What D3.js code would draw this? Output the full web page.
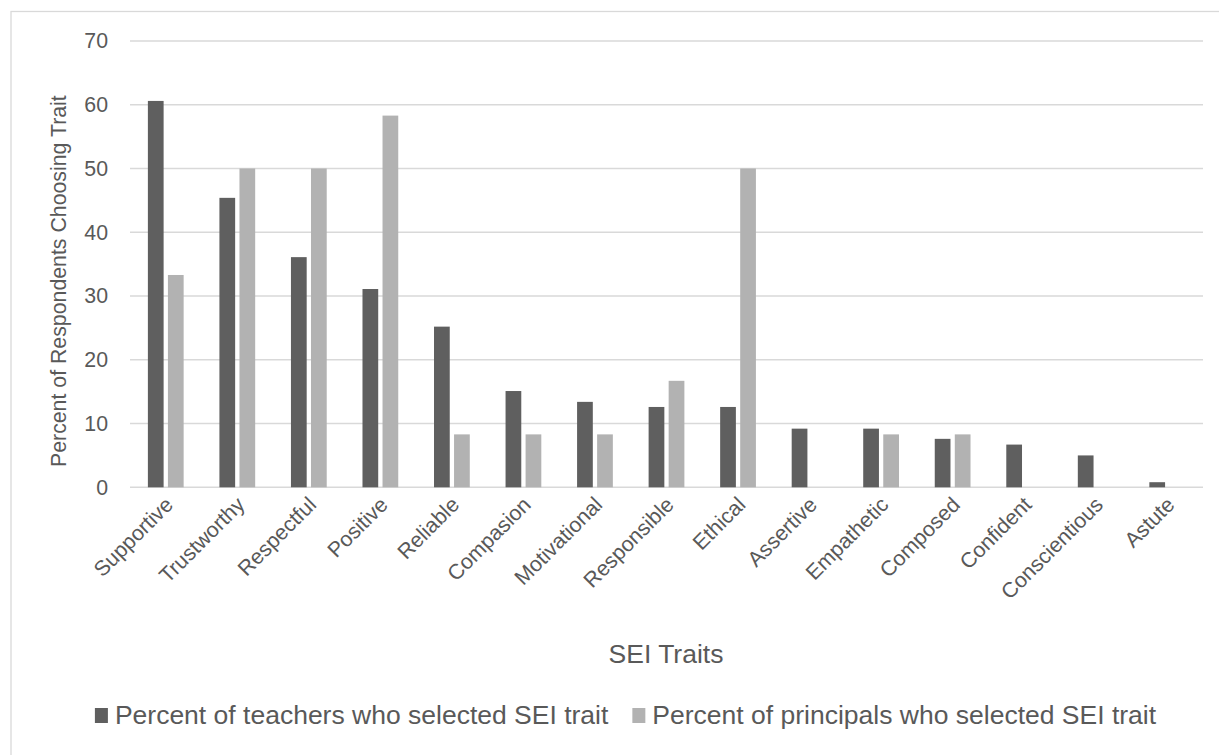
<!DOCTYPE html>
<html>
<head>
<meta charset="utf-8">
<script src="https://cdn.jsdelivr.net/npm/d3@7"></script>
<style>
  html, body { margin: 0; padding: 0; background: #fff; }
  svg { display: block; }
</style>
</head>
<body>
<div id="chart"></div>
<script>
// Data
const traits = ['Supportive', 'Trustworthy', 'Respectful', 'Positive', 'Reliable', 'Compasion',
  'Motivational', 'Responsible', 'Ethical', 'Assertive', 'Empathetic', 'Composed',
  'Confident', 'Conscientious', 'Astute'];
const teachers = [60.6, 45.4, 36.1, 31.1, 25.2, 15.1, 13.4, 12.6, 12.6, 9.2, 9.2, 7.6, 6.7, 5.0, 0.8];
const principals = [33.3, 50, 50, 58.3, 8.3, 8.3, 8.3, 16.7, 50, 0, 8.3, 8.3, 0, 0, 0];
const seriesNames = ['Percent of teachers who selected SEI trait', 'Percent of principals who selected SEI trait'];
const yTicks = [0, 10, 20, 30, 40, 50, 60, 70];

const width = 1219;
const height = 755;
const colors = ['#5f5f5f', '#b2b2b2'];
const textColor = '#595959';
const gridColor = '#d9d9d9';
const font = '"Liberation Sans", Arial, sans-serif';
const fontSize = 21.3;
const bigFontSize = 26.5; // x title and legend are set larger

// Plot area
const plot = { left: 130, right: 1203, top: 41, bottom: 487.3 };

const svg = d3.select('#chart').append('svg')
  .attr('width', width)
  .attr('height', height)
  .style('font-family', font);

// Chart border (runs off the right/bottom edges in the reference)
svg.append('rect')
  .attr('x', 11)
  .attr('y', 11.5)
  .attr('width', 1260)
  .attr('height', 800)
  .attr('fill', 'none')
  .attr('stroke', gridColor)
  .attr('stroke-width', 1.3);

const x0 = d3.scaleBand()
  .domain(traits)
  .range([plot.left, plot.right])
  .paddingInner(0.5)
  .paddingOuter(0.25);

const x1 = d3.scaleBand()
  .domain([0, 1])
  .range([0, x0.bandwidth()])
  .paddingInner(0.215);

const y = d3.scaleLinear()
  .domain([0, 70])
  .range([plot.bottom, plot.top]);

// Gridlines
svg.append('g')
  .selectAll('line')
  .data(yTicks)
  .join('line')
  .attr('x1', plot.left)
  .attr('x2', plot.right)
  .attr('y1', d => y(d))
  .attr('y2', d => y(d))
  .attr('stroke', gridColor)
  .attr('stroke-width', 1.4);

// Y tick labels
svg.append('g')
  .selectAll('text')
  .data(yTicks)
  .join('text')
  .attr('x', 108)
  .attr('y', d => y(d))
  .attr('dy', '0.35em')
  .attr('text-anchor', 'end')
  .attr('font-size', fontSize)
  .attr('fill', textColor)
  .text(d => d);

// Bars
const rows = traits.map((t, i) => ({ trait: t, values: [teachers[i], principals[i]] }));

const groups = svg.append('g')
  .selectAll('g')
  .data(rows)
  .join('g')
  .attr('transform', d => `translate(${x0(d.trait)},0)`);

groups.selectAll('rect')
  .data(d => d.values.map((v, s) => ({ s, v })).filter(d => d.v > 0))
  .join('rect')
  .attr('x', d => x1(d.s))
  .attr('width', x1.bandwidth())
  .attr('y', d => y(d.v))
  .attr('height', d => y(0) - y(d.v))
  .attr('fill', d => colors[d.s]);

// X labels, rotated
svg.append('g')
  .selectAll('text')
  .data(traits)
  .join('text')
  .attr('transform', d => `translate(${x0(d) + x0.bandwidth() / 2 - 2},${plot.bottom + 8}) rotate(-45)`)
  .attr('dy', '0.71em')
  .attr('text-anchor', 'end')
  .attr('font-size', fontSize)
  .attr('fill', textColor)
  .text(d => d);

// Axis titles
svg.append('text')
  .attr('transform', `translate(66,${(plot.top + plot.bottom) / 2 + 17}) rotate(-90)`)
  .attr('text-anchor', 'middle')
  .attr('font-size', fontSize)
  .attr('fill', textColor)
  .text('Percent of Respondents Choosing Trait');

svg.append('text')
  .attr('x', 666)
  .attr('y', 663)
  .attr('text-anchor', 'middle')
  .attr('font-size', bigFontSize)
  .attr('fill', textColor)
  .text('SEI Traits');

// Legend, centred under the chart
const legend = svg.append('g');
const items = legend.selectAll('g')
  .data(seriesNames)
  .join('g');

items.append('rect')
  .attr('width', 13)
  .attr('height', 15)
  .attr('y', -16)
  .attr('fill', (d, i) => colors[i]);

items.append('text')
  .attr('x', 20)
  .attr('font-size', bigFontSize)
  .attr('fill', textColor)
  .text(d => d);

let offset = 0;
const itemGap = 24;
items.each(function() {
  const g = d3.select(this);
  g.attr('transform', `translate(${offset},0)`);
  offset += 20 + g.select('text').node().getComputedTextLength() + itemGap;
});
const legendWidth = offset - itemGap;
legend.attr('transform', `translate(${625.5 - legendWidth / 2},724)`);
</script>
</body>
</html>
